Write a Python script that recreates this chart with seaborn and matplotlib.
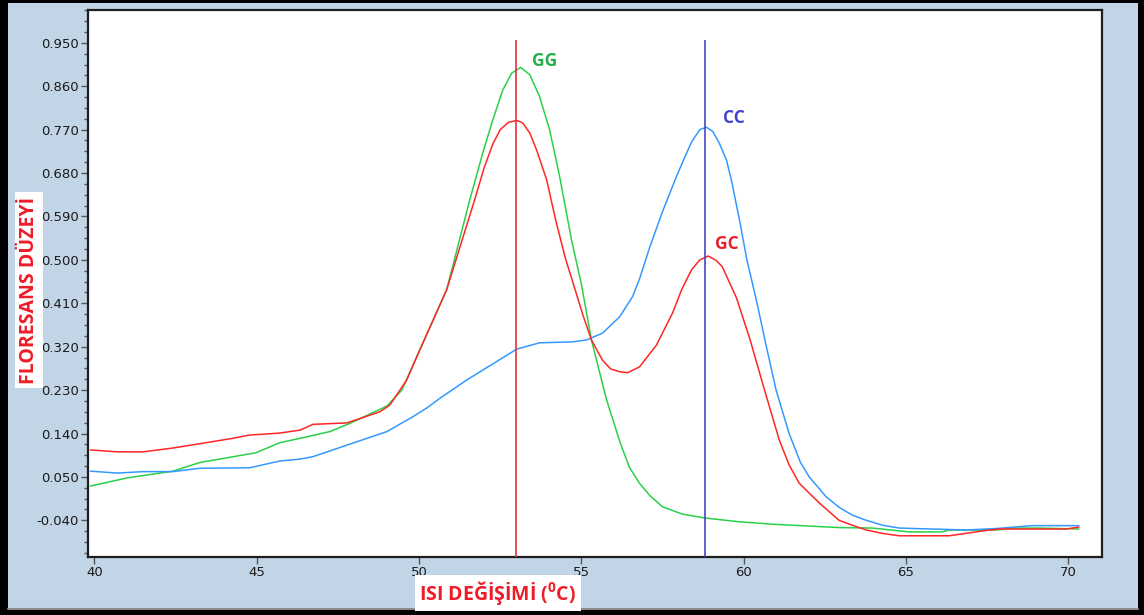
import numpy as np
import pandas as pd
import matplotlib
matplotlib.use("Agg")
import matplotlib.pyplot as plt
import seaborn as sns
from matplotlib.patches import Rectangle
from matplotlib.lines import Line2D
from matplotlib.ticker import FixedLocator, FormatStrFormatter

# ---------------- data ----------------
gg_x = [39.87, 41.01, 42.42, 43.25, 44.97, 45.71, 46.33, 47.25, 47.87, 49.01, 49.47,
        50.02, 50.85, 51.56, 51.99, 52.27, 52.58, 52.85, 53.13, 53.41, 53.71, 54.02,
        54.33, 54.70, 55.00, 55.31, 55.78, 56.20, 56.48, 56.79, 57.10, 57.50,
        58.11, 58.79, 59.87, 60.88, 62.94, 63.96, 65.10, 66.11, 66.33, 67.78, 68.30,
        69.14, 70.33]
gg_y = [0.031, 0.048, 0.062, 0.080, 0.100, 0.121, 0.130, 0.144, 0.161, 0.197, 0.230,
        0.313, 0.438, 0.624, 0.728, 0.790, 0.852, 0.887, 0.899, 0.884, 0.839, 0.770,
        0.673, 0.540, 0.450, 0.334, 0.209, 0.120, 0.070, 0.037, 0.012, -0.012,
        -0.027, -0.035, -0.043, -0.048, -0.055, -0.056, -0.064, -0.064, -0.060, -0.060, -0.056,
        -0.056, -0.058]

gc_x = [39.87, 40.70, 41.50, 42.42, 43.25, 44.26, 44.79, 45.31, 45.71, 46.33, 46.73,
        47.78, 48.79, 49.10, 49.62, 50.02, 50.85, 51.71, 52.00, 52.27, 52.50, 52.75,
        53.01, 53.19, 53.41, 53.62, 53.93, 54.20, 54.50, 54.80, 55.05, 55.31, 55.65,
        55.90, 56.18, 56.42, 56.79, 57.31, 57.81, 58.10, 58.40, 58.65, 58.91, 59.15,
        59.34, 59.78, 60.20, 60.60, 61.10, 61.40, 61.71, 62.33, 62.94, 63.34, 63.78,
        64.27, 64.79, 66.33, 66.85, 67.34, 67.87, 69.93, 70.33]
gc_y = [0.106, 0.102, 0.102, 0.110, 0.119, 0.130, 0.137, 0.139, 0.141, 0.147, 0.159,
        0.162, 0.185, 0.199, 0.251, 0.313, 0.438, 0.624, 0.690, 0.740, 0.770, 0.785,
        0.789, 0.784, 0.763, 0.728, 0.666, 0.585, 0.505, 0.440, 0.385, 0.334, 0.292,
        0.274, 0.268, 0.266, 0.278, 0.323, 0.390, 0.440, 0.480, 0.500, 0.508, 0.499,
        0.486, 0.421, 0.334, 0.240, 0.126, 0.075, 0.037, -0.004, -0.040, -0.050, -0.060,
        -0.067, -0.072, -0.072, -0.067, -0.062, -0.058, -0.058, -0.054]

cc_x = [39.87, 40.70, 41.50, 42.42, 43.25, 44.79, 45.31, 45.71, 46.33, 46.73, 47.78,
        49.01, 49.81, 50.24, 50.64, 51.47, 53.01, 53.71, 54.73, 55.16, 55.65, 56.18,
        56.58, 56.80, 57.10, 57.50, 57.93, 58.20, 58.40, 58.65, 58.85, 59.05, 59.25,
        59.47, 59.62, 59.87, 60.10, 60.39, 60.70, 61.00, 61.40, 61.75, 62.02, 62.54,
        62.94, 63.34, 63.78, 64.27, 64.79, 65.80, 66.85, 67.78, 68.88, 70.33]
cc_y = [0.062, 0.058, 0.061, 0.061, 0.068, 0.069, 0.077, 0.083, 0.087, 0.092, 0.116,
        0.144, 0.175, 0.193, 0.213, 0.251, 0.315, 0.328, 0.330, 0.334, 0.348, 0.382,
        0.424, 0.462, 0.525, 0.600, 0.673, 0.715, 0.745, 0.770, 0.775, 0.766, 0.742,
        0.707, 0.666, 0.583, 0.500, 0.417, 0.320, 0.230, 0.140, 0.080, 0.050, 0.009,
        -0.013, -0.029, -0.040, -0.050, -0.056, -0.058, -0.060, -0.057, -0.051, -0.051]

peak_x = [53.0, 58.8]
peak_top = 0.955
y_ticks = [-0.040, 0.050, 0.140, 0.230, 0.320, 0.410, 0.500, 0.590, 0.680, 0.770, 0.860, 0.950]
x_ticks = [40, 45, 50, 55, 60, 65, 70]
labels = ["GG", "CC", "GC"]
label_x = [53.87, 59.71, 59.49]
label_y = [0.913, 0.794, 0.533]

# ---------------- style ----------------
sns.set_theme(style="ticks")
plt.rcParams['font.family'] = ['DejaVu Sans']
plt.rcParams['mathtext.fontset'] = 'custom'
plt.rcParams['mathtext.rm'] = 'Open Sans'
plt.rcParams['mathtext.bf'] = 'Open Sans:bold'

W, H = 1144, 615
fig = plt.figure(figsize=(W / 100, H / 100), dpi=100)
fig.patch.set_facecolor('black')
fig.add_artist(Rectangle((8 / W, 1 - 608 / H), (1138 - 8) / W, (608 - 3) / H,
                         transform=fig.transFigure, facecolor='#c2d5e6',
                         edgecolor='none', zorder=0))
fig.add_artist(Line2D([8 / W, 1138 / W], [1 - 609 / H, 1 - 609 / H],
                      transform=fig.transFigure, color='#8a8a8a', lw=1.5, zorder=1))

ax = fig.add_axes([88 / W, 1 - 557 / H, (1102 - 88) / W, (557 - 10) / H])
ax.set_facecolor('white')

green = '#2ad04a'
red = '#ff2626'
blue = '#3399ff'

df_gg = pd.DataFrame({'T': gg_x, 'F': gg_y})
df_gc = pd.DataFrame({'T': gc_x, 'F': gc_y})
df_cc = pd.DataFrame({'T': cc_x, 'F': cc_y})
sns.lineplot(data=df_gg, x='T', y='F', color=green, lw=1.1, ax=ax, estimator=None)
sns.lineplot(data=df_cc, x='T', y='F', color=blue, lw=1.1, ax=ax, estimator=None)
sns.lineplot(data=df_gc, x='T', y='F', color=red, lw=1.1, ax=ax, estimator=None)

ymin, ymax = -0.116, 1.018
ax.vlines(peak_x, ymin, peak_top, colors=['#e8303a', '#4646c8'], lw=1.2, zorder=5)

label_colors = ['#22b04c', '#4444cc', '#e8202a']
for t, lx, ly, c in zip(labels, label_x, label_y, label_colors):
    ax.text(lx, ly, t, color=c, fontsize=12.5, fontweight='bold',
            family='Open Sans', ha='center', va='center', zorder=6)

ax.set_xlim(39.8, 71.04)
ax.set_ylim(ymin, ymax)
ax.xaxis.set_major_locator(FixedLocator(x_ticks))
ax.yaxis.set_major_locator(FixedLocator(y_ticks))
ax.yaxis.set_minor_locator(FixedLocator(
    [v + k * 0.0225 for v in [-0.13] + y_ticks for k in range(1, 4)]))
ax.yaxis.set_major_formatter(FormatStrFormatter('%.3f'))
ax.tick_params(axis='both', which='major', length=5, width=1, color='#555555',
               labelsize=9.5, labelcolor='#1a1a1a', pad=1.5)
ax.tick_params(axis='y', which='minor', length=3, width=1, color='#555555')
ax.set_xlabel('')
ax.set_ylabel('')
for s in ax.spines.values():
    s.set_color('#1e1e1e')
    s.set_linewidth(1.6)

# axis titles in white boxes
fig.text(29 / W, 1 - 290 / H, 'FLORESANS DÜZEYİ', rotation=90, color='#ee1c28',
         fontsize=14, fontweight='bold', family='Open Sans', ha='center', va='center',
         bbox=dict(facecolor='white', edgecolor='none', pad=3))
fig.text(498 / W, 1 - 593 / H, r'ISI DEĞİŞİMİ ($\mathbf{^{0}}$C)', color='#ee1c28',
         fontsize=14, fontweight='bold', family='Open Sans', ha='center', va='center',
         bbox=dict(facecolor='white', edgecolor='none', pad=3))

fig.savefig('out.png', dpi=100, facecolor=fig.get_facecolor())
